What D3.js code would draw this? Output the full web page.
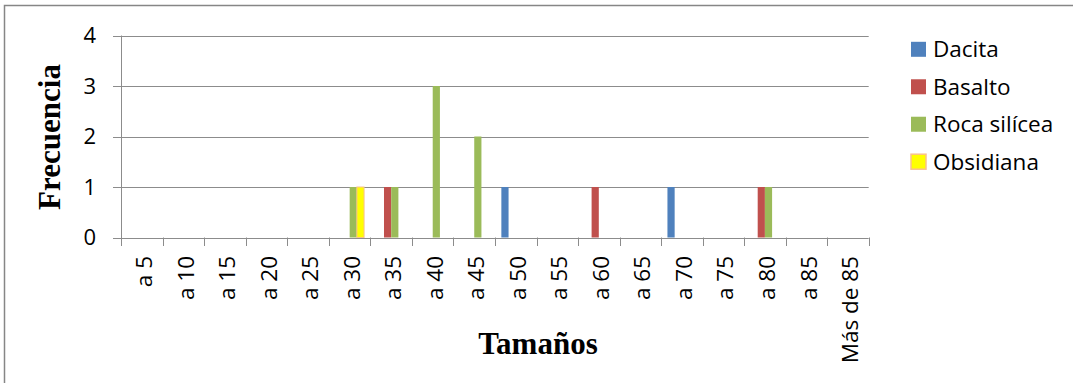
<!DOCTYPE html>
<html>
<head>
<meta charset="utf-8">
<script src="https://cdn.jsdelivr.net/npm/d3@7"></script>
<style>
  html, body { margin: 0; padding: 0; background: #fff; }
  svg { display: block; }
</style>
</head>
<body>
<svg id="chart" width="1073" height="383"></svg>
<script>
// Size classes (mm) and frequency of each raw material
const categories = ["a 5", "a 10", "a 15", "a 20", "a 25", "a 30", "a 35", "a 40", "a 45",
                    "a 50", "a 55", "a 60", "a 65", "a 70", "a 75", "a 80", "a 85", "Más de 85"];
const seriesNames = ["Dacita", "Basalto", "Roca silícea", "Obsidiana"];
const dacita      = [0, 0, 0, 0, 0, 0, 0, 0, 0, 1, 0, 0, 0, 1, 0, 0, 0, 0];
const basalto     = [0, 0, 0, 0, 0, 0, 1, 0, 0, 0, 0, 1, 0, 0, 0, 1, 0, 0];
const rocaSilicea = [0, 0, 0, 0, 0, 1, 1, 3, 2, 0, 0, 0, 0, 0, 0, 1, 0, 0];
const obsidiana   = [0, 0, 0, 0, 0, 1, 0, 0, 0, 0, 0, 0, 0, 0, 0, 0, 0, 0];
const yTicks = [0, 1, 2, 3, 4];
const yTitle = "Frecuencia";
const xTitle = "Tamaños";

const seriesValues = [dacita, basalto, rocaSilicea, obsidiana];
const fills   = ["#4F81BD", "#C0504D", "#9BBB59", "#FFFF00"];
const strokes = ["none", "none", "none", "#F9C28C"];

const svg = d3.select("#chart");
const sans = "'Open Sans', 'Noto Sans', sans-serif";
const serif = "'Liberation Serif', 'Times New Roman', serif";
const gridColor = "#8C8C8C";

// outer chart frame (cropped on the right and bottom)
svg.append("path")
  .attr("d", "M4.5,383 L4.5,5.5 L1073,5.5")
  .attr("fill", "none")
  .attr("stroke", "#868686")
  .attr("stroke-width", 1.5);

const plotLeft = 121.3, plotRight = 868.7;
const x = d3.scaleBand().domain(categories).range([plotLeft, plotRight]).padding(0);
const y = d3.scaleLinear().domain([0, 4]).range([237.5, 35.5]);
const barW = 7.2;
const xs = d3.scaleBand().domain(seriesNames)
  .range([x.bandwidth() / 2 - 2 * barW, x.bandwidth() / 2 + 2 * barW]).padding(0);

// horizontal gridlines including y-axis tick marks
svg.append("g").selectAll("line")
  .data(yTicks)
  .join("line")
  .attr("x1", 113).attr("x2", plotRight)
  .attr("y1", d => Math.round(y(d)) + 0.5)
  .attr("y2", d => Math.round(y(d)) + 0.5)
  .attr("stroke", gridColor)
  .attr("stroke-width", 1);

// y axis line
svg.append("line")
  .attr("x1", Math.round(plotLeft) + 0.5).attr("x2", Math.round(plotLeft) + 0.5)
  .attr("y1", y(4)).attr("y2", 246)
  .attr("stroke", gridColor);

// x axis tick marks at category boundaries
const boundaries = categories.map(c => x(c)).concat([plotRight]);
svg.append("g").selectAll("line")
  .data(boundaries)
  .join("line")
  .attr("x1", d => Math.round(d) + 0.5).attr("x2", d => Math.round(d) + 0.5)
  .attr("y1", y(0)).attr("y2", 246)
  .attr("stroke", gridColor);

// y tick labels
svg.append("g").selectAll("text")
  .data(yTicks)
  .join("text")
  .attr("x", 96)
  .attr("y", d => y(d))
  .attr("dy", "0.36em")
  .attr("text-anchor", "end")
  .attr("font-family", sans)
  .attr("font-size", 22)
  .attr("fill", "#000")
  .text(d => d);

// x tick labels, rotated
svg.append("g").selectAll("text")
  .data(categories)
  .join("text")
  .attr("transform", d => `translate(${x(d) + x.bandwidth() / 2 + 2},256) rotate(-90)`)
  .attr("dy", "0.36em")
  .attr("text-anchor", "end")
  .attr("font-family", sans)
  .attr("font-size", 22.5)
  .attr("fill", "#000")
  .text(d => d);

// bars
const barData = [];
seriesValues.forEach((vals, si) => {
  vals.forEach((v, ci) => {
    if (v > 0) barData.push({ series: seriesNames[si], si, cat: categories[ci], value: v });
  });
});
svg.append("g").selectAll("rect")
  .data(barData)
  .join("rect")
  .attr("x", d => x(d.cat) + xs(d.series))
  .attr("y", d => y(d.value))
  .attr("width", xs.bandwidth())
  .attr("height", d => y(0) - y(d.value))
  .attr("fill", d => fills[d.si])
  .attr("stroke", d => strokes[d.si])
  .attr("stroke-width", 1);

// axis titles
svg.append("text")
  .attr("transform", "translate(60,137) rotate(-90)")
  .attr("text-anchor", "middle")
  .attr("font-family", serif)
  .attr("font-weight", "bold")
  .attr("font-size", 31)
  .attr("fill", "#000")
  .text(yTitle);

svg.append("text")
  .attr("x", 538)
  .attr("y", 354)
  .attr("text-anchor", "middle")
  .attr("font-family", serif)
  .attr("font-weight", "bold")
  .attr("font-size", 31)
  .attr("fill", "#000")
  .text(xTitle);

// legend
const legendY = d3.scalePoint().domain(seriesNames).range([49.3, 161.7]);
const legend = svg.append("g").selectAll("g")
  .data(seriesNames)
  .join("g")
  .attr("transform", d => `translate(911,${legendY(d)})`);
legend.append("rect")
  .attr("x", 0).attr("y", -7.5)
  .attr("width", 15).attr("height", 15)
  .attr("fill", (d, i) => fills[i])
  .attr("stroke", (d, i) => strokes[i])
  .attr("stroke-width", 1.5);
legend.append("text")
  .attr("x", 22)
  .attr("y", 0)
  .attr("dy", "0.36em")
  .attr("font-family", sans)
  .attr("font-size", 22.5)
  .attr("fill", "#000")
  .text(d => d);
</script>
</body>
</html>
